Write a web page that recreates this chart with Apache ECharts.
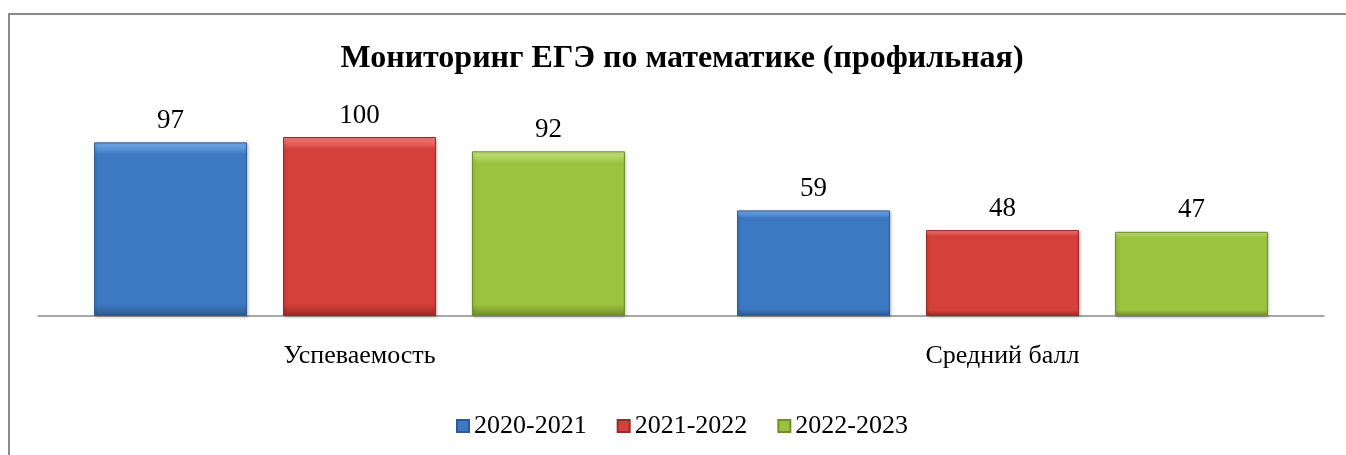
<!DOCTYPE html>
<html>
<head>
<meta charset="utf-8">
<script src="https://cdn.jsdelivr.net/npm/echarts@6/dist/echarts.min.js"></script>
<style>
  html, body { margin: 0; padding: 0; background: #fff; overflow: hidden; }
  #chart { width: 1364px; height: 455px; }
</style>
</head>
<body>
<div id="chart"></div>
<script>
// Exam monitoring: pass rate and mean score per school year
const titleText = 'Мониторинг ЕГЭ по математике (профильная)';
const categories = ['Успеваемость', 'Средний балл'];
const seriesNames = ['2020-2021', '2021-2022', '2022-2023'];
const values2020 = [97, 59];
const values2021 = [100, 48];
const values2022 = [92, 47];

const palette = [
  { top: '#7ab2f0', base: '#3d79c2', edge: '#2c5a94' },
  { top: '#f4837e', base: '#d6403b', edge: '#9c2b28' },
  { top: '#cbe786', base: '#9bc33d', edge: '#6f8f2a' }
];

// vertical bevel-like fill: bright top rim fading into the body colour
function barStyle(c) {
  return {
    color: {
      type: 'linear', x: 0, y: 0, x2: 0, y2: 1,
      colorStops: [
        { offset: 0, color: c.top },
        { offset: 0.07, color: c.base },
        { offset: 0.93, color: c.base },
        { offset: 1, color: c.edge }
      ]
    },
    borderColor: c.edge,
    borderWidth: 1,
    shadowColor: 'rgba(0,0,0,0.25)',
    shadowBlur: 3,
    shadowOffsetX: 1,
    shadowOffsetY: 1
  };
}

const seriesValues = [values2020, values2021, values2022];
const FONT = '"Liberation Serif", "DejaVu Serif", serif';

const chart = echarts.init(document.getElementById('chart'), null, { renderer: 'canvas' });
chart.setOption({
  animation: false,
  backgroundColor: '#fff',
  textStyle: { fontFamily: FONT },
  graphic: [{
    type: 'rect',
    shape: { x: 9, y: 14, width: 1500, height: 600 },
    style: { fill: 'none', stroke: '#8a8a8a', lineWidth: 2 },
    silent: true
  }],
  title: {
    text: titleText,
    left: 'center',
    top: 38,
    textStyle: { fontFamily: FONT, fontWeight: 'bold', fontSize: 32, color: '#000' }
  },
  legend: {
    data: seriesNames,
    left: 'center',
    top: 408,
    itemWidth: 12,
    itemHeight: 12,
    itemGap: 30,
    icon: 'rect',
    textStyle: { fontFamily: FONT, fontSize: 26, color: '#000', padding: [0, 0, 0, 0] }
  },
  grid: { left: 38, right: 40, top: 137, bottom: 139 },
  xAxis: {
    type: 'category',
    data: categories,
    axisLine: { lineStyle: { color: '#8a8a8a', width: 1.5 } },
    axisTick: { show: false },
    axisLabel: { fontFamily: FONT, fontSize: 26, color: '#000', margin: 27 }
  },
  yAxis: {
    type: 'value',
    min: 0,
    max: 100,
    show: false,
    splitLine: { show: false }
  },
  series: seriesNames.map((name, i) => ({
    name: name,
    type: 'bar',
    data: seriesValues[i],
    barWidth: 153,
    barGap: '23.5%',
    itemStyle: barStyle(palette[i]),
    label: {
      show: true,
      position: 'top',
      distance: 8,
      fontFamily: FONT,
      fontSize: 27,
      color: '#000'
    }
  }))
});
</script>
</body>
</html>
